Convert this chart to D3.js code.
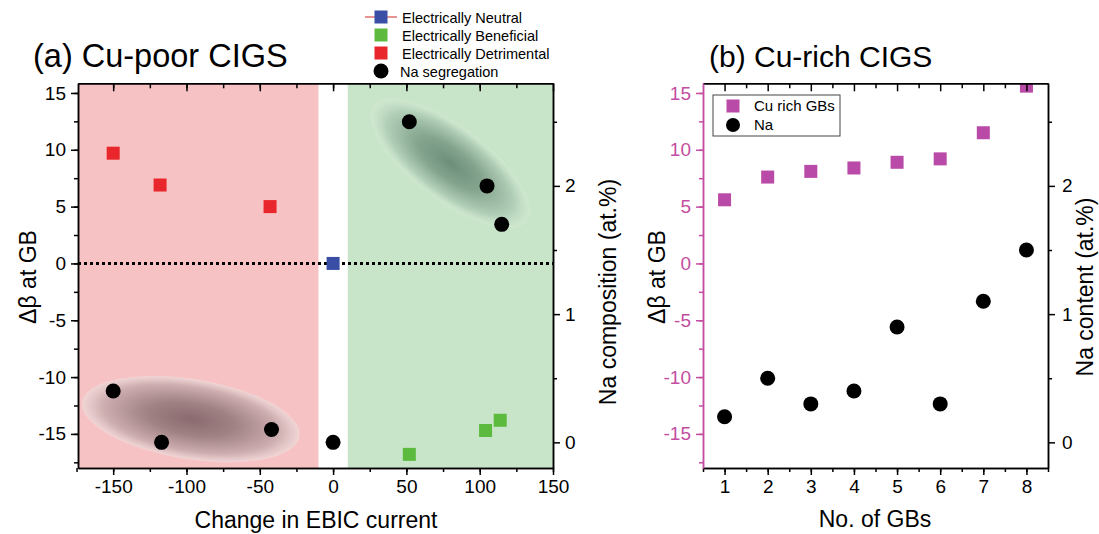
<!DOCTYPE html>
<html>
  <head>
    <meta charset="utf-8">
    <script src="https://d3js.org/d3.v7.min.js"></script>
    <style>
      body { margin: 0; background: #fff; }
      svg { font-family: "Liberation Sans", Arial, sans-serif; }
    </style>
  </head>
  <body>
    <script>
      // ---- data (a) Cu-poor CIGS ----
      var neutralX = [0], neutralY = [0];
      var beneficialX = [52, 104, 114], beneficialY = [-16.8, -14.7, -13.8];
      var detrimentalX = [-150, -118, -43], detrimentalY = [9.7, 6.9, 5.0];
      var naSegX = [-150, -117, -42, 0, 52, 105, 115];
      var naSegY = [0.4, 0.0, 0.1, 0.0, 2.5, 2.0, 1.7];

      // ---- data (b) Cu-rich CIGS ----
      var gbNo = [1, 2, 3, 4, 5, 6, 7, 8];
      var cuRichBeta = [5.6, 7.6, 8.1, 8.4, 8.9, 9.2, 11.5, 15.6];
      var naContent = [0.2, 0.5, 0.3, 0.4, 0.9, 0.3, 1.1, 1.5];

      // tick labels
      var xTicksA = [-150, -100, -50, 0, 50, 100, 150];
      var betaTicks = [-15, -10, -5, 0, 5, 10, 15];
      var naTicks = [0, 1, 2];

      var pink = "#c44d9f";

      var svg = d3.select("body").append("svg")
          .attr("width", 1099)
          .attr("height", 534);

      var defs = svg.append("defs");

      /* scales */
      var plotTop = 83.3, plotBottom = 468;
      var xA = d3.scaleLinear().domain([-174, 150]).range([78, 553]);
      var yA = d3.scaleLinear().domain([-18, 15.85]).range([plotBottom, plotTop]);
      var yNaA = d3.scaleLinear().domain([-0.2, 2.8]).range([plotBottom, plotTop]);
      var xB = d3.scaleLinear().domain([0.5, 8.5]).range([703, 1048]);
      var yB = d3.scaleLinear().domain([-18, 15.85]).range([plotBottom, plotTop]);
      var yNaB = d3.scaleLinear().domain([-0.2, 2.8]).range([plotBottom, plotTop]);

      var fmt = function(d) { return String(d); };

      function minorTicks(lo, hi, step) {
        var out = [];
        for (var v = lo; v <= hi + 1e-9; v += step) out.push(+v.toFixed(3));
        return out;
      }

      /* ===== panel (a) ===== */
      defs.append("clipPath").attr("id", "clipA")
        .append("rect").attr("x", xA(-174)).attr("y", plotTop)
        .attr("width", xA(150) - xA(-174)).attr("height", plotBottom - plotTop);
      var plotA = svg.append("g").attr("clip-path", "url(#clipA)");

      // shaded regions
      plotA.append("rect")
          .attr("x", xA(-174)).attr("y", plotTop)
          .attr("width", xA(-10) - xA(-174)).attr("height", plotBottom - plotTop)
          .attr("fill", "#f7c2c3");
      plotA.append("rect")
          .attr("x", xA(10)).attr("y", plotTop)
          .attr("width", xA(150) - xA(10)).attr("height", plotBottom - plotTop)
          .attr("fill", "#c9e5c9");

      // blurred ellipses
      function ellGrad(id, stops) {
        var g = defs.append("radialGradient").attr("id", id);
        stops.forEach(function(s) {
          g.append("stop").attr("offset", s[0]).attr("stop-color", s[1]).attr("stop-opacity", s[2]);
        });
      }
      ellGrad("gRed", [["0%", "#8a6a6e", 1], ["40%", "#a08184", 1], ["80%", "#cdadaf", 1], ["100%", "#f0d9d9", 0.85]]);
      ellGrad("gGreen", [["0%", "#6d8f7a", 1], ["40%", "#84a48e", 1], ["80%", "#b2cfb8", 1], ["100%", "#d3e9d3", 0.5]]);

      plotA.append("ellipse")
          .attr("transform", "translate(" + xA(-97) + "," + yA(-13.7) + ") rotate(9)")
          .attr("rx", 110).attr("ry", 40)
          .attr("fill", "url(#gRed)");
      plotA.append("ellipse")
          .attr("transform", "translate(" + xA(80) + "," + yA(8.8) + ") rotate(37)")
          .attr("rx", 96).attr("ry", 37)
          .attr("fill", "url(#gGreen)");

      // dotted zero line
      plotA.append("line")
          .attr("x1", xA(-174)).attr("x2", xA(150))
          .attr("y1", yA(0)).attr("y2", yA(0))
          .attr("stroke", "#000").attr("stroke-width", 3)
          .attr("stroke-dasharray", "3,3");

      function squares(g, xs, ys, xs_, ys_, color, s) {
        g.selectAll(null).data(xs).enter().append("rect")
          .attr("x", function(d) { return xs_(d) - s / 2; })
          .attr("y", function(d, i) { return ys_(ys[i]) - s / 2; })
          .attr("width", s).attr("height", s)
          .attr("fill", color);
      }
      function dots(g, xs, ys, xs_, ys_, r) {
        g.selectAll(null).data(xs).enter().append("circle")
          .attr("cx", function(d) { return xs_(d); })
          .attr("cy", function(d, i) { return ys_(ys[i]); })
          .attr("r", r).attr("fill", "#000");
      }

      squares(plotA, detrimentalX, detrimentalY, xA, yA, "#e8262b", 13);
      squares(plotA, beneficialX, beneficialY, xA, yA, "#5cbb3f", 13);
      squares(plotA, neutralX, neutralY, xA, yA, "#3a4ea6", 13);
      dots(plotA, naSegX, naSegY, xA, yNaA, 7.5);

      // axes
      function styleAxis(g, color, fs) {
        g.select(".domain").attr("stroke", color).attr("stroke-width", 1.5);
        g.selectAll(".tick line").attr("stroke", color).attr("stroke-width", 1.5);
        g.selectAll(".tick text").attr("fill", color)
          .style("font-size", fs + "px")
          .style("font-family", "Liberation Sans, Arial, sans-serif");
      }
      function addAxis(axis, tr, color) {
        var g = svg.append("g").attr("transform", tr).call(axis);
        styleAxis(g, color, 19);
        return g;
      }

      // bottom
      addAxis(d3.axisBottom(xA).tickValues(minorTicks(-175, 150, 25)).tickFormat("").tickSize(4).tickSizeOuter(0), "translate(0," + plotBottom + ")", "#000");
      addAxis(d3.axisBottom(xA).tickValues(xTicksA).tickFormat(fmt).tickSize(7).tickPadding(5).tickSizeOuter(0), "translate(0," + plotBottom + ")", "#000");
      // top (inward)
      addAxis(d3.axisTop(xA).tickValues(minorTicks(-150, 125, 25)).tickFormat("").tickSize(-5).tickSizeOuter(0), "translate(0," + plotTop + ")", "#000");
      addAxis(d3.axisTop(xA).tickValues(xTicksA).tickFormat("").tickSize(-8).tickSizeOuter(0), "translate(0," + plotTop + ")", "#000");
      // left
      addAxis(d3.axisLeft(yA).tickValues(minorTicks(-17.5, 15, 2.5)).tickFormat("").tickSize(4).tickSizeOuter(0), "translate(" + xA(-174) + ",0)", "#000");
      addAxis(d3.axisLeft(yA).tickValues(betaTicks).tickFormat(fmt).tickSize(7).tickPadding(5).tickSizeOuter(0), "translate(" + xA(-174) + ",0)", "#000");
      // right (Na)
      addAxis(d3.axisRight(yNaA).tickValues([0.5, 1.5, 2.5]).tickFormat("").tickSize(4).tickSizeOuter(0), "translate(" + xA(150) + ",0)", "#000");
      addAxis(d3.axisRight(yNaA).tickValues(naTicks).tickFormat(fmt).tickSize(7).tickPadding(5).tickSizeOuter(0), "translate(" + xA(150) + ",0)", "#000");

      /* ===== panel (b) ===== */
      defs.append("clipPath").attr("id", "clipB")
        .append("rect").attr("x", xB(0.5)).attr("y", plotTop)
        .attr("width", xB(8.5) - xB(0.5)).attr("height", plotBottom - plotTop);
      var plotB = svg.append("g").attr("clip-path", "url(#clipB)");

      squares(plotB, gbNo, cuRichBeta, xB, yB, "#b94aa8", 13);
      dots(plotB, gbNo, naContent, xB, yNaB, 7.5);

      addAxis(d3.axisBottom(xB).tickValues(minorTicks(0.5, 8.5, 0.5)).tickFormat("").tickSize(4).tickSizeOuter(0), "translate(0," + plotBottom + ")", "#000");
      addAxis(d3.axisBottom(xB).tickValues(gbNo).tickFormat(fmt).tickSize(7).tickPadding(5).tickSizeOuter(0), "translate(0," + plotBottom + ")", "#000");
      addAxis(d3.axisTop(xB).tickValues(minorTicks(1.5, 8, 1)).tickFormat("").tickSize(-5).tickSizeOuter(0), "translate(0," + plotTop + ")", "#000");
      addAxis(d3.axisTop(xB).tickValues(gbNo).tickFormat("").tickSize(-8).tickSizeOuter(0), "translate(0," + plotTop + ")", "#000");
      addAxis(d3.axisLeft(yB).tickValues(minorTicks(-17.5, 15, 2.5)).tickFormat("").tickSize(4).tickSizeOuter(0), "translate(" + xB(0.5) + ",0)", pink);
      addAxis(d3.axisLeft(yB).tickValues(betaTicks).tickFormat(fmt).tickSize(7).tickPadding(5).tickSizeOuter(0), "translate(" + xB(0.5) + ",0)", pink);
      addAxis(d3.axisRight(yNaB).tickValues([0.5, 1.5, 2.5]).tickFormat("").tickSize(4).tickSizeOuter(0), "translate(" + xB(8.5) + ",0)", "#000");
      addAxis(d3.axisRight(yNaB).tickValues(naTicks).tickFormat(fmt).tickSize(7).tickPadding(7).tickSizeOuter(0), "translate(" + xB(8.5) + ",0)", "#000");

      /* ===== titles and labels ===== */
      function txt(x, y, s, fs, opts) {
        opts = opts || {};
        var t = svg.append("text").attr("x", x).attr("y", y).text(s)
          .style("font-size", fs + "px")
          .attr("fill", opts.fill || "#000")
          .attr("text-anchor", opts.anchor || "start");
        if (opts.rotate) t.attr("transform", "rotate(" + opts.rotate + "," + x + "," + y + ")");
        return t;
      }
      txt(33, 67, "(a) Cu-poor CIGS", 32.5);
      txt(709, 67, "(b) Cu-rich CIGS", 30);
      txt(36, 277, "\u0394\u03b2 at GB", 23, {anchor: "middle", rotate: -90});
      txt(665, 277, "\u0394\u03b2 at GB", 23, {anchor: "middle", rotate: -90});
      txt(616, 292, "Na composition (at.%)", 23, {anchor: "middle", rotate: -90});
      txt(1093, 287, "Na content (at.%)", 23, {anchor: "middle", rotate: -90});
      txt(316, 528, "Change in EBIC current", 23, {anchor: "middle"});
      txt(875, 527, "No. of GBs", 23, {anchor: "middle"});

      /* ===== legend (a) ===== */
      var legA = [
        {label: "Electrically Neutral", color: "#3a4ea6", shape: "sq", line: true},
        {label: "Electrically Beneficial", color: "#5cbb3f", shape: "sq"},
        {label: "Electrically Detrimental", color: "#e8262b", shape: "sq"},
        {label: "Na segregation", color: "#000", shape: "ci"}
      ];
      var lg = svg.append("g");
      legA.forEach(function(d, i) {
        var cy = 17 + i * 18;
        if (d.line) {
          lg.append("line").attr("x1", 365).attr("x2", 397).attr("y1", cy).attr("y2", cy)
            .attr("stroke", "#e07070").attr("stroke-width", 1.5);
        }
        if (d.shape === "sq") {
          lg.append("rect").attr("x", 381 - 6.5).attr("y", cy - 6.5)
            .attr("width", 13).attr("height", 13).attr("fill", d.color);
        } else {
          lg.append("circle").attr("cx", 381).attr("cy", cy).attr("r", 7.5).attr("fill", d.color);
        }
        lg.append("text").attr("x", d.shape === "ci" ? 400 : 402).attr("y", cy + 5.5)
          .style("font-size", "14.5px").text(d.label);
      });

      /* ===== legend (b) ===== */
      var lb = svg.append("g");
      lb.append("rect").attr("x", 713).attr("y", 95).attr("width", 127).attr("height", 41)
        .attr("fill", "#fff").attr("stroke", "#444").attr("stroke-width", 1);
      lb.append("rect").attr("x", 733 - 6.5).attr("y", 106 - 6.5).attr("width", 13).attr("height", 13)
        .attr("fill", "#b94aa8");
      lb.append("circle").attr("cx", 733).attr("cy", 125).attr("r", 7).attr("fill", "#000");
      lb.append("text").attr("x", 754).attr("y", 111).style("font-size", "15px").text("Cu rich GBs");
      lb.append("text").attr("x", 754).attr("y", 130).style("font-size", "15px").text("Na");
    </script>
  </body>
</html>
